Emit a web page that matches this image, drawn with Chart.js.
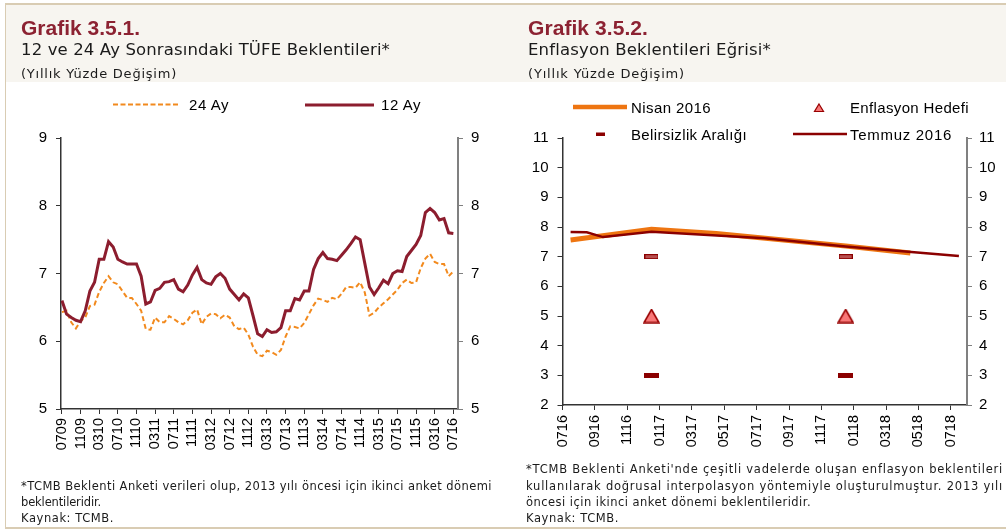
<!DOCTYPE html>
<html><head><meta charset="utf-8">
<script src="https://cdn.jsdelivr.net/npm/chart.js@4"></script>
<style>
html,body{margin:0;padding:0;background:#fff;}
#page{position:relative;width:1006px;height:532px;overflow:hidden;background:#fff;font-family:'Liberation Sans',Arial,sans-serif;}
.hdr{position:absolute;left:6px;top:5px;width:1000px;height:77px;background:#F7F5F0;}
.bt{position:absolute;left:5px;top:3px;width:1001px;height:2px;background:#D9CCB3;}
.bl{position:absolute;left:5px;top:3px;width:1px;height:526px;background:#D9CCB3;}
.bb{position:absolute;left:5px;top:527px;width:1001px;height:2px;background:#D9CCB3;}
.t{position:absolute;white-space:nowrap;line-height:1;}
.title{font-weight:bold;font-size:21px;color:#8C2232;}
.sub{font-family:'DejaVu Sans',sans-serif;font-size:16.5px;color:#1a1a1a;}
.par{font-family:'DejaVu Sans',sans-serif;font-size:13px;color:#1a1a1a;}
.leg{font-size:15px;color:#000;}
.fn{font-family:'DejaVu Sans',sans-serif;font-size:11.5px;color:#1a1a1a;}
canvas{position:absolute;}
svg{position:absolute;left:0;top:0;}
</style></head>
<body>
<div id="page">
<div class="hdr"></div><div class="bt"></div><div class="bl"></div><div class="bb"></div>

<canvas id="c1" width="500" height="340" style="left:0px;top:120px;width:500px;height:340px;"></canvas>
<canvas id="c2" width="501" height="340" style="left:505px;top:120px;width:501px;height:340px;"></canvas>

<svg width="1006" height="532">
  <line x1="113" y1="104.5" x2="180" y2="104.5" stroke="#F28A1E" stroke-width="2" stroke-dasharray="5,2.5"/>
  <line x1="305" y1="105" x2="374" y2="105" stroke="#8C1D2E" stroke-width="3"/>
  <line x1="573" y1="107" x2="627" y2="107" stroke="#EE7511" stroke-width="4.5"/>
  <polygon points="819,104 823.5,111.5 814.5,111.5" fill="#F87878" stroke="#980000" stroke-width="1.2"/>
  <rect x="596" y="132.5" width="9" height="3.5" fill="#8B0000"/>
  <line x1="793" y1="134" x2="847" y2="134" stroke="#8B0000" stroke-width="2.5"/>
</svg>

<div class="t title" data-w="119" style="left:21px;top:17.3px;">Grafik 3.5.1.</div>
<div class="t sub" data-w="369" style="left:21px;top:42px;">12 ve 24 Ay Sonrasındaki TÜFE Beklentileri*</div>
<div class="t par" data-w="156" style="left:21px;top:66.5px;">(Yıllık Yüzde Değişim)</div>

<div class="t title" data-w="120" style="left:528px;top:17.3px;">Grafik 3.5.2.</div>
<div class="t sub" data-w="243" style="left:528px;top:42px;">Enflasyon Beklentileri Eğrisi*</div>
<div class="t par" data-w="157" style="left:528px;top:66.5px;">(Yıllık Yüzde Değişim)</div>

<div class="t leg" data-w="40" style="left:189px;top:97px;">24 Ay</div>
<div class="t leg" data-w="40" style="left:381px;top:97px;">12 Ay</div>
<div class="t leg" data-w="80" style="left:631px;top:99.7px;">Nisan 2016</div>
<div class="t leg" data-w="119" style="left:850px;top:99.7px;">Enflasyon Hedefi</div>
<div class="t leg" data-w="116" style="left:631px;top:126.5px;">Belirsizlik Aralığı</div>
<div class="t leg" data-w="102" style="left:850px;top:126.5px;">Temmuz 2016</div>

<div class="t fn" data-w="471" style="left:21px;top:481px;">*TCMB Beklenti Anketi verileri olup, 2013 yılı öncesi için ikinci anket dönemi</div>
<div class="t fn" data-w="80" style="left:21px;top:497px;">beklentileridir.</div>
<div class="t fn" data-w="93" style="left:21px;top:513px;">Kaynak: TCMB.</div>

<div class="t fn" data-w="477" style="left:526px;top:464px;">*TCMB Beklenti Anketi'nde çeşitli vadelerde oluşan enflasyon beklentileri</div>
<div class="t fn" data-w="477" style="left:526px;top:480.5px;">kullanılarak doğrusal interpolasyon yöntemiyle oluşturulmuştur. 2013 yılı</div>
<div class="t fn" data-w="285" style="left:526px;top:497px;">öncesi için ikinci anket dönemi beklentileridir.</div>
<div class="t fn" data-w="93" style="left:526px;top:513px;">Kaynak: TCMB.</div>
</div>

<script>
// ---------- Data: Grafik 3.5.1 ----------
const xLabelsL = ['0709','1109','0310','0710','1110','0311','0711','1111','0312','0712','1112',
  '0313','0713','1113','0314','0714','1114','0315','0715','1115','0316','0716'];
const ay12 = [6.60,6.40,6.35,6.31,6.29,6.45,6.74,6.87,7.21,7.21,
  7.47,7.39,7.21,7.17,7.14,7.14,7.14,6.96,6.55,6.58,
  6.75,6.78,6.87,6.88,6.91,6.77,6.73,6.83,6.98,7.09,
  6.91,6.86,6.84,6.95,7.00,6.93,6.77,6.69,6.61,6.70,
  6.64,6.38,6.11,6.07,6.17,6.13,6.14,6.20,6.45,6.45,
  6.63,6.61,6.74,6.74,7.06,7.22,7.31,7.22,7.21,7.19,
  7.27,7.35,7.44,7.54,7.50,7.15,6.80,6.69,6.79,6.90,
  6.85,7.00,7.04,7.03,7.25,7.34,7.43,7.56,7.90,7.96,
  7.90,7.79,7.81,7.60,7.59];
const ay24 = [6.43,6.45,6.28,6.19,6.30,6.35,6.52,6.54,6.73,6.86,
  6.96,6.87,6.84,6.74,6.64,6.64,6.55,6.45,6.18,6.17,
  6.35,6.28,6.28,6.37,6.33,6.28,6.25,6.31,6.42,6.47,
  6.25,6.36,6.41,6.40,6.34,6.39,6.35,6.22,6.18,6.20,
  6.10,5.92,5.80,5.78,5.86,5.84,5.80,5.87,6.07,6.22,
  6.21,6.19,6.27,6.40,6.53,6.63,6.61,6.58,6.64,6.62,
  6.70,6.80,6.80,6.79,6.87,6.72,6.38,6.42,6.50,6.56,
  6.62,6.69,6.76,6.86,6.91,6.86,6.87,7.08,7.22,7.29,
  7.17,7.14,7.14,6.96,7.03];

// ---------- Data: Grafik 3.5.2 (x = months since 0716) ----------
const xLabelsR = ['0716','0916','1116','0117','0317','0517','0717','0917','1117','0118','0318','0518','0718'];
const nisanX = [0.5,5.5,9.5,17.5,21.5];
const nisanY = [7.56,7.92,7.78,7.36,7.12];
const temmuzX = [0.5,1.5,2.5,5.5,12.5,17.5,24.5];
const temmuzY = [7.83,7.82,7.66,7.84,7.62,7.34,7.02];
const hedefX = [5.5,17.5];
const hedefY = [5,5];
const bantX = [5.5,17.5];
const bantUstY = [7,7];
const bantAltY = [3,3];

// ---------- text fitting ----------
function fitText(){
  document.querySelectorAll('[data-w]').forEach(el=>{
    el.style.letterSpacing='0px';
    const nat = el.getBoundingClientRect().width;
    const n = el.textContent.length;
    el.style.letterSpacing = ((+el.dataset.w - nat)/n)+'px';
  });
}
fitText();
if (document.fonts && document.fonts.ready) document.fonts.ready.then(fitText);

// ---------- charts ----------
Chart.defaults.font.family = "'Liberation Sans', Arial, sans-serif";
Chart.defaults.font.size = 15;
Chart.defaults.color = '#000';

function pts(xs, ys){ return ys.map((v,i)=>({x:xs[i], y:v})); }

function yAxis(pos, min, max, width, borderColor, borderW, pad){
  return {
    type:'linear', position:pos, min:min, max:max,
    ticks:{stepSize:1, padding:pad, color:'#000', font:{size:15}},
    grid:{drawOnChartArea:false, drawTicks:true, tickLength:5, color:borderColor, lineWidth:1},
    border:{display:true, color:borderColor, width:borderW},
    afterFit:(s)=>{ s.width = width; }
  };
}

new Chart(document.getElementById('c1'), {
  type:'line',
  data:{ datasets:[
    {label:'12 Ay', data: ay12.map((v,i)=>({x:i,y:v})), borderColor:'#8C1D2E', borderWidth:3,
     pointRadius:0, tension:0, fill:false, yAxisID:'y', order:1},
    {label:'24 Ay', data: ay24.map((v,i)=>({x:i,y:v})), borderColor:'#F28A1E', borderWidth:2,
     borderDash:[5,3], pointRadius:0, tension:0, fill:false, yAxisID:'y', order:2}
  ]},
  options:{
    responsive:false, animation:false, events:[],
    layout:{padding:{top:11,left:0,right:0,bottom:0}},
    plugins:{legend:{display:false}, tooltip:{enabled:false}},
    scales:{
      x:{type:'linear', min:-0.2, max:85,
         afterBuildTicks:(s)=>{ s.ticks = xLabelsL.map((_,k)=>({value:k*4})); },
         ticks:{autoSkip:false, minRotation:90, maxRotation:90, padding:4, font:{size:14.5},
                callback:(v,i)=>xLabelsL[i]},
         grid:{drawOnChartArea:false, drawTicks:true, tickLength:5, color:'#333'},
         border:{display:true, color:'#333', width:1.5},
         afterFit:(s)=>{ s.height = 51; }},
      y: yAxis('left', 5, 9, 61, '#333', 1.5, 9),
      y2: yAxis('right', 5, 9, 42, '#808080', 2, 8)
    }
  }
});

function markerCanvas(w,h,fill,stroke){
  const c = document.createElement('canvas'); c.width=w; c.height=h;
  const g = c.getContext('2d');
  g.fillStyle = fill; g.fillRect(0,0,w,h);
  if (stroke){ g.strokeStyle=stroke; g.lineWidth=1; g.strokeRect(0.5,0.5,w-1,h-1); }
  return c;
}
function triCanvas(){
  const c = document.createElement('canvas'); c.width=17; c.height=15;
  const g = c.getContext('2d');
  g.beginPath(); g.moveTo(8.5,1); g.lineTo(16,14); g.lineTo(1,14); g.closePath();
  g.fillStyle='#F87878'; g.fill(); g.lineWidth=1.6; g.strokeStyle='#980000'; g.stroke();
  return c;
}
const mkUst = markerCanvas(14,5,'#B85050','#8B0000');
const mkAlt = markerCanvas(15,5,'#8B0000',null);
const mkTri = triCanvas();

new Chart(document.getElementById('c2'), {
  type:'line',
  data:{ datasets:[
    {label:'Enflasyon Hedefi', data:pts(hedefX,hedefY), showLine:false, pointStyle:mkTri, pointRadius:4, order:0},
    {label:'Belirsizlik Aralığı', data:pts(bantX,bantUstY), showLine:false, pointStyle:mkUst, pointRadius:4, order:1},
    {label:'Belirsizlik Aralığı alt', data:pts(bantX,bantAltY), showLine:false, pointStyle:mkAlt, pointRadius:4, order:1},
    {label:'Temmuz 2016', data:pts(temmuzX,temmuzY), borderColor:'#8B0000', borderWidth:2.5,
     pointRadius:0, tension:0, fill:false, order:2},
    {label:'Nisan 2016', data:pts(nisanX,nisanY), borderColor:'#EE7511', borderWidth:5,
     pointRadius:0, tension:0, fill:false, order:3}
  ]},
  options:{
    responsive:false, animation:false, events:[],
    layout:{padding:{top:11,left:0,right:0,bottom:0}},
    plugins:{legend:{display:false}, tooltip:{enabled:false}},
    scales:{
      x:{type:'linear', min:0, max:25,
         afterBuildTicks:(s)=>{ s.ticks = xLabelsR.map((_,k)=>({value:k*2})); },
         ticks:{autoSkip:false, minRotation:90, maxRotation:90, padding:5, font:{size:14.5},
                callback:(v,i)=>xLabelsR[i]},
         grid:{drawOnChartArea:false, drawTicks:true, tickLength:5, color:'#333'},
         border:{display:true, color:'#333', width:1.5},
         afterFit:(s)=>{ s.height = 55; }},
      y: yAxis('left', 2, 11, 57.5, '#333', 1.5, 9),
      y2: yAxis('right', 2, 11, 39, '#808080', 2, 7)
    }
  }
});
</script>
</body></html>
